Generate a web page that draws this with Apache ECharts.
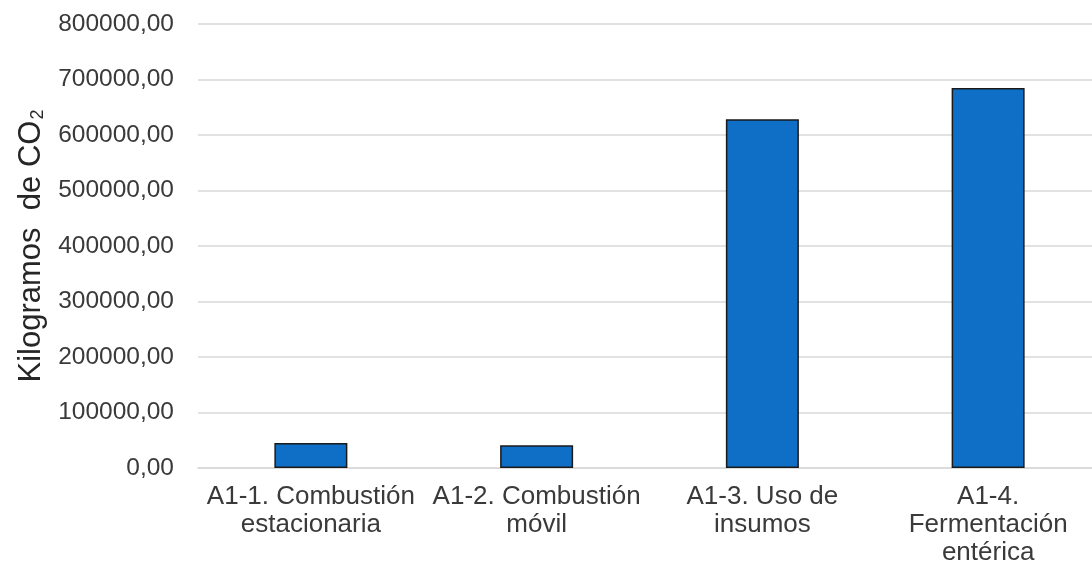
<!DOCTYPE html>
<html>
<head>
<meta charset="utf-8">
<script src="https://cdn.jsdelivr.net/npm/echarts@6/dist/echarts.min.js"></script>
<style>
  html, body { margin: 0; padding: 0; background: #ffffff; overflow: hidden; }
  /* plot area runs slightly past the right edge of the window */
  #chart { width: 1101px; height: 567px; }
</style>
</head>
<body>
<div id="chart"></div>
<script>
// Emission sources (line breaks as they wrap under each bar)
const categories = [
  'A1-1. Combustión\nestacionaria',
  'A1-2. Combustión\nmóvil',
  'A1-3. Uso de\ninsumos',
  'A1-4.\nFermentación\nentérica'
];
// Kilograms of CO2 per source
const emissions = [45000, 41000, 628600, 684500];
// Value axis range
const yMin = 0;
const yMax = 800000;
const yStep = 100000;

const FONT = "'Liberation Sans', Arial, sans-serif";

const chart = echarts.init(document.getElementById('chart'), null, { renderer: 'canvas' });

chart.setOption({
  animation: false,
  backgroundColor: '#ffffff',
  grid: { left: 198, top: 24, right: 0, bottom: 95, containLabel: false },
  xAxis: {
    type: 'category',
    data: categories,
    axisLine: { show: true, lineStyle: { color: '#d9d9d9', width: 1.5 } },
    axisTick: { show: false },
    axisLabel: {
      interval: 0,
      margin: 15,
      fontFamily: FONT,
      fontSize: 26,
      lineHeight: 28,
      color: '#3a3a3a',
      align: 'center'
    }
  },
  yAxis: {
    type: 'value',
    min: yMin,
    max: yMax,
    interval: yStep,
    name: '{a|Kilogramos  de CO}{s|2}',
    nameLocation: 'middle',
    nameRotate: 90,
    nameGap: 150,
    nameTextStyle: {
      fontFamily: FONT,
      color: '#262626',
      rich: {
        a: { fontFamily: FONT, fontSize: 31, color: '#262626', verticalAlign: 'bottom', lineHeight: 36 },
        s: { fontFamily: FONT, fontSize: 18, color: '#262626', verticalAlign: 'bottom', lineHeight: 36, padding: [0, 0, 0, 1] }
      }
    },
    axisLine: { show: false },
    axisTick: { show: false },
    splitLine: { show: true, lineStyle: { color: '#d9d9d9', width: 1.5 } },
    axisLabel: {
      margin: 24,
      fontFamily: FONT,
      fontSize: 24.5,
      color: '#3a3a3a',
      formatter: v => v.toFixed(2).replace('.', ',')
    }
  },
  series: [{
    type: 'bar',
    data: emissions,
    barWidth: 73,
    itemStyle: { color: '#0f6fc6', borderColor: '#1a1a1a', borderWidth: 1.5 }
  }]
});
</script>
</body>
</html>
